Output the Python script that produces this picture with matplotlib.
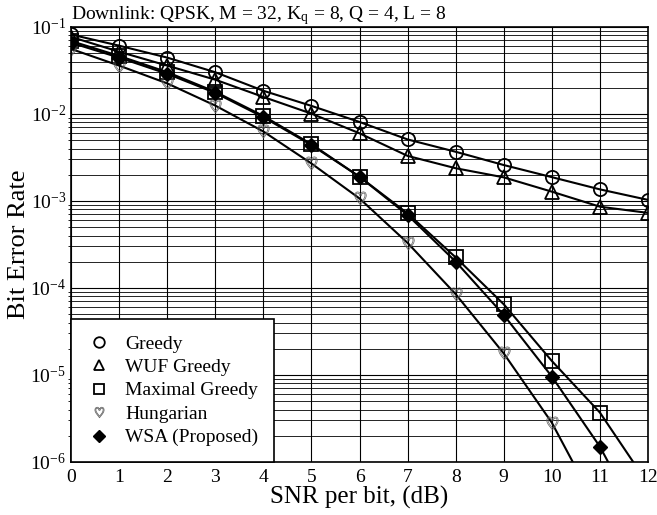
import matplotlib
matplotlib.use("Agg")
import matplotlib.pyplot as plt
import numpy as np

plt.rcParams['font.family'] = ['Liberation Serif', 'DejaVu Serif']
plt.rcParams['mathtext.fontset'] = 'stix'

snr = np.arange(0, 13)

greedy = [0.082, 0.061, 0.0445, 0.0302, 0.0185, 0.0124, 0.0081, 0.0051,
          0.00368, 0.00259, 0.00188, 0.00136, 0.00103]
wuf_greedy = [0.077, 0.052, 0.036, 0.0248, 0.0157, 0.0101, 0.0060, 0.0033,
              0.00238, 0.00187, 0.00128, 0.00086, 0.00073]
max_greedy = [0.069, 0.0465, 0.0303, 0.0180, 0.0095, 0.0045, 0.0019, 0.00072,
              0.000225, 6.5e-5, 1.45e-5, 3.7e-6, 5.6e-7]
hungarian = [0.056, 0.036, 0.0225, 0.0125, 0.0063, 0.0027, 0.00107, 0.00033,
             8.5e-5, 1.77e-5, 2.83e-6, 2.6e-7]
wsa = [0.066, 0.0445, 0.0290, 0.0175, 0.0092, 0.0044, 0.0019, 0.00069,
       0.000201, 4.9e-5, 9.6e-6, 1.5e-6, 1.4e-7]

fig = plt.figure(figsize=(6.57, 5.15), dpi=100)
ax = fig.add_axes([71 / 657, 1 - 462 / 515, (648 - 71) / 657, (462 - 27) / 515])

ax.semilogy(snr, greedy, color='k', lw=1.5, marker='o', ms=9.5, mfc='none',
            mec='k', mew=1.3, label='Greedy')
ax.semilogy(snr, wuf_greedy, color='k', lw=1.5, marker='^', ms=9.5, mfc='none',
            mec='k', mew=1.3, label='WUF Greedy')
ax.semilogy(snr, max_greedy, color='k', lw=1.5, marker='s', ms=9.5, mfc='none',
            mec='k', mew=1.3, label='Maximal Greedy')
ax.semilogy(snr[:len(hungarian)], hungarian, color='k', lw=1.5,
            marker='$\\heartsuit$', ms=9.5, mfc='none', mec='0.35', mew=0.5,
            label='Hungarian')
ax.semilogy(snr, wsa, color='k', lw=1.5, marker='D', ms=7.5, mfc='k',
            mec='k', label='WSA (Proposed)')

ax.set_xlim(0, 12)
ax.set_ylim(1e-6, 1e-1)
ax.set_xticks(snr)
ax.tick_params(labelsize=14, direction='in', length=0)
ax.tick_params(axis='x', pad=5)
ax.grid(True, which='major', color='k', lw=0.8)
ax.grid(True, which='minor', axis='y', color='k', lw=0.6)
for s in ax.spines.values():
    s.set_linewidth(1.2)

ax.set_xlabel('SNR per bit, (dB)', fontsize=18, labelpad=0)
ax.set_ylabel('Bit Error Rate', fontsize=19, labelpad=0)
ax.set_title('Downlink: QPSK, M = 32, K$_\\mathregular{q}$ = 8, Q = 4, L = 8',
             fontsize=14, loc='left', pad=3)

leg = ax.legend(loc='lower left', fontsize=14, fancybox=False, framealpha=1,
                edgecolor='k', borderaxespad=0, handlelength=1.3,
                handletextpad=0.7, labelspacing=0.3, borderpad=0.8,
                markerscale=0.8)
leg.get_frame().set_linewidth(1.2)
for h in leg.legend_handles:
    h.set_linestyle('none')

fig.savefig('out.png', dpi=100)
